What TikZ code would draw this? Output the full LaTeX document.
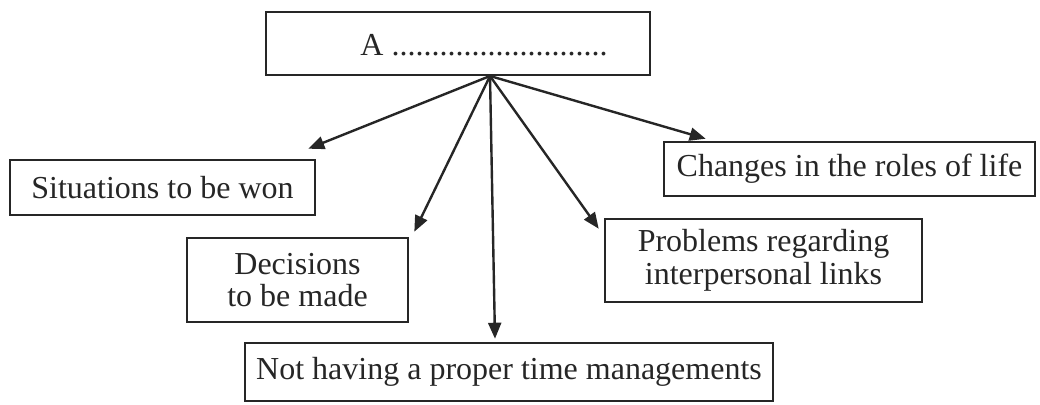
\documentclass[tikz,border=0pt]{standalone}
\usepackage{fontspec}
\setmainfont{Liberation Serif}
\usetikzlibrary{arrows.meta}
\definecolor{ink}{HTML}{262626}
\begin{document}
\begin{tikzpicture}[x=0.5pt,y=-0.5pt,
  box/.style={draw=ink, line width=1.3pt, inner sep=0pt, align=center,
    text=ink, font=\fontsize{16}{16.3}\selectfont},
  conn/.style={draw=ink, line width=1.2pt, -{Triangle[length=8pt,width=6.5pt]}},
  lbl/.style={text=ink, inner sep=0pt, font=\fontsize{16}{16.3}\selectfont}]
\useasboundingbox (0,0) rectangle (1040,404);
% boxes
\node[box, minimum width=192pt, minimum height=31.5pt] (top) at (458,43.5) {};
\node[lbl, anchor=base west] (toplbl) at (360,55) {A ...........................};
\node[box, minimum width=152.5pt, minimum height=27.5pt] (sit) at (162.5,187.5) {Situations to be won};
\node[box, minimum width=110.5pt, minimum height=42pt] (dec) at (297.5,280) {Decisions\\to be made};
\node[box, minimum width=158.5pt, minimum height=41.5pt] (prob) at (763.5,260.5) {Problems regarding\\interpersonal links};
\node[box, minimum width=185.5pt, minimum height=27pt] (chg) at (849.5,169) {Changes in the roles of life};
\node[box, minimum width=264pt, minimum height=29pt] (tm) at (509,372) {Not having a proper time managements};
% connectors
\coordinate (apex) at (490,76);
\draw[conn] (apex) -- ([shift={(-8,-10)}]sit.north east);
\draw[conn] (apex) -- ([shift={(5,-5)}]dec.north east);
\draw[conn] (apex) -- ([shift={(-14,-3)}]tm.north);
\draw[conn] (apex) -- ([shift={(-5,11)}]prob.north west);
\draw[conn] (apex) -- ([shift={(43,-2)}]chg.north west);
\end{tikzpicture}
\end{document}
